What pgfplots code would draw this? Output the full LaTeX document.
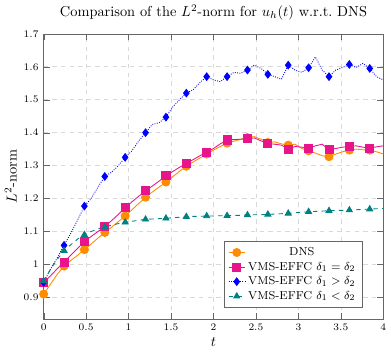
\documentclass[border=0pt]{standalone}
\usepackage{pgfplots}
\pgfplotsset{compat=1.18}
\usepackage{pgfplotstable}

\definecolor{dnsorange}{RGB}{255,140,0}
\definecolor{vmspink}{RGB}{232,20,140}
\definecolor{vmsteal}{RGB}{0,128,128}

% t, DNS, d1=d2, d1>d2, d1<d2
\pgfplotstableread{
t    dns    eq     gt     lt
0.00 0.910  0.946  0.946  0.950
0.08 0.940  0.965  0.985  0.985
0.16 0.970  0.987  1.020  1.015
0.24 0.995  1.007  1.058  1.042
0.32 1.012  1.028  1.095  1.060
0.40 1.028  1.049  1.135  1.077
0.48 1.045  1.070  1.177  1.090
0.56 1.062  1.085  1.200  1.100
0.64 1.080  1.100  1.235  1.108
0.72 1.097  1.115  1.267  1.114
0.80 1.113  1.133  1.280  1.119
0.88 1.130  1.152  1.300  1.124
0.96 1.147  1.172  1.325  1.128
1.04 1.166  1.190  1.345  1.131
1.12 1.185  1.207  1.375  1.134
1.20 1.204  1.224  1.400  1.137
1.28 1.220  1.238  1.425  1.138
1.36 1.235  1.253  1.430  1.139
1.44 1.250  1.269  1.447  1.140
1.52 1.266  1.282  1.478  1.142
1.60 1.283  1.295  1.500  1.143
1.68 1.298  1.307  1.520  1.145
1.76 1.311  1.318  1.530  1.146
1.84 1.323  1.330  1.552  1.146
1.92 1.335  1.340  1.570  1.147
2.00 1.347  1.352  1.560  1.147
2.08 1.358  1.366  1.555  1.148
2.16 1.368  1.378  1.570  1.148
2.24 1.374  1.379  1.583  1.149
2.32 1.380  1.380  1.580  1.149
2.40 1.385  1.382  1.590  1.150
2.48 1.388  1.384  1.605  1.151
2.56 1.380  1.375  1.595  1.151
2.64 1.370  1.367  1.577  1.152
2.72 1.372  1.365  1.570  1.153
2.80 1.366  1.362  1.562  1.154
2.88 1.362  1.350  1.605  1.155
2.96 1.365  1.358  1.590  1.157
3.04 1.352  1.356  1.583  1.158
3.12 1.345  1.352  1.597  1.160
3.20 1.338  1.360  1.630  1.161
3.28 1.330  1.365  1.590  1.162
3.36 1.327  1.348  1.570  1.163
3.44 1.335  1.352  1.590  1.164
3.52 1.342  1.356  1.598  1.164
3.60 1.347  1.358  1.607  1.165
3.68 1.350  1.360  1.598  1.166
3.76 1.348  1.356  1.610  1.167
3.84 1.347  1.353  1.595  1.168
3.92 1.342  1.357  1.570  1.169
4.00 1.335  1.360  1.560  1.170
}\datatable

\begin{document}
\begin{tikzpicture}
\begin{axis}[
    scale only axis,
    width=236pt, height=198pt,
    xmin=0, xmax=4,
    ymin=0.835, ymax=1.7,
    xtick={0,0.5,...,4},
    ytick={0.9,1,...,1.7},
    grid=major,
    major grid style={dashed, gray!30},
    axis line style={gray!80!black},
    tick style={gray!80!black},
    tick label style={font=\scriptsize},
    title={Comparison of the $L^2$-norm for $u_h(t)$ w.r.t.\ DNS},
    xlabel={$t$}, ylabel={$L^2$-norm},
    ylabel style={yshift=-2pt},
    xlabel style={yshift=2pt},
    legend style={at={(0.94,0.04)}, anchor=south east, font=\footnotesize,
        draw=gray!80!black, row sep=-1pt},
    legend cell align=center,
    legend image code/.code={
        \draw[mark repeat=2, mark phase=2] plot coordinates {(0cm,0cm) (0.2cm,0cm) (0.4cm,0cm)};
    },
    mark repeat=3,
    every axis plot/.append style={semithick},
]
\addplot[color=dnsorange, solid, mark=*, mark size=2.8pt] table[x=t, y=dns] {\datatable};
\addlegendentry{DNS}
\addplot[color=vmspink, solid, mark=square*, mark size=2.8pt] table[x=t, y=eq] {\datatable};
\addlegendentry{VMS-EFFC $\delta_1=\delta_2$}
\addplot[color=blue, densely dotted, mark=diamond*, mark size=2.6pt, mark options={solid}] table[x=t, y=gt] {\datatable};
\addlegendentry{VMS-EFFC $\delta_1>\delta_2$}
\addplot[color=vmsteal, dashed, mark=triangle*, mark size=2.4pt, mark options={solid}] table[x=t, y=lt] {\datatable};
\addlegendentry{VMS-EFFC $\delta_1<\delta_2$}
\end{axis}
\end{tikzpicture}
\end{document}
